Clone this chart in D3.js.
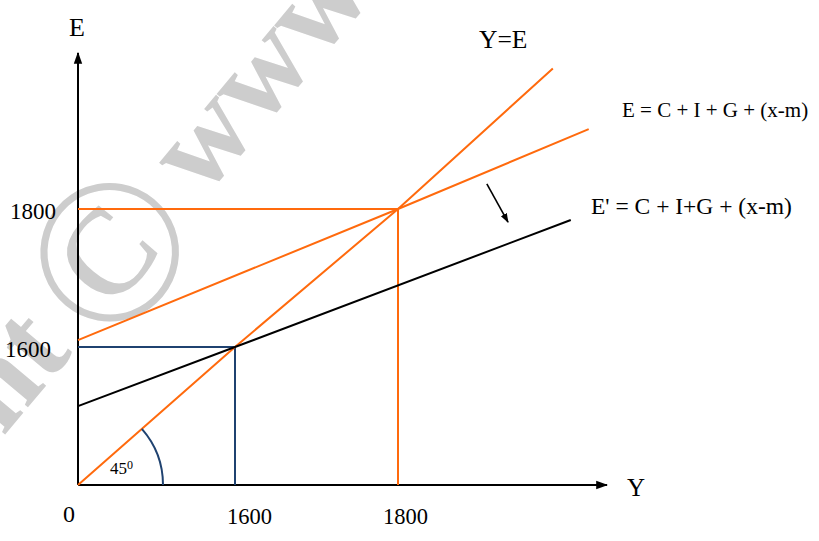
<!DOCTYPE html>
<meta charset="utf-8">
<style>
body { margin: 0; background: #fff; }
text { font-family: "Liberation Serif", "Times New Roman", serif; fill: #000; }
.wm { fill: #cdcdcd; font-weight: bold; }
</style>
<svg width="819" height="541"></svg>
<script src="https://d3js.org/d3.v7.min.js"></script>
<script>
// values (schematic Keynesian cross)
var xTicks = [1600, 1800];
var yTicks = [1600, 1800];
var yeLine = [[0, 0], [1600, 1600], [1800, 1800], [1990, 1990]];      // Y = E
var eLine = [[0, 1610], [1800, 1800], [2034, 1908]];                   // E
var e2Line = [[0, 915], [1600, 1600], [2012, 1784]];                   // E'
var eq1 = [1600, 1600];
var eq2 = [1800, 1800];
var shiftArrow = [[1909, 1834], [1935, 1781]];

var svg = d3.select('svg');
var orange = '#ff6a0d', navy = '#1f4270';

// piecewise scales – the drawing is not to scale
var x = d3.scaleLinear().domain([0, 1600, 1800, 2000]).range([78, 235, 398, 561]);
var y = d3.scaleLinear().domain([0, 1600, 1800, 2000]).range([485, 347, 209, 61]);

// watermark
var wm = svg.append('g').attr('transform', 'translate(106,249) rotate(-50)');
wm.append('text').attr('class', 'wm').attr('text-anchor', 'middle')
  .attr('y', 72).style('font-size', '205px').style('font-weight', 'normal').text('\u00A9');
wm.append('text').attr('class', 'wm').attr('text-anchor', 'end')
  .attr('x', -100).attr('y', 42).style('font-size', '124px').text('nt');
wm.append('text').attr('class', 'wm').attr('text-anchor', 'start')
  .attr('x', 100).attr('y', 42).style('font-size', '124px').text('www.');

var defs = svg.append('defs');
defs.append('marker').attr('id', 'ah')
  .attr('viewBox', '0 0 10 10').attr('refX', 9).attr('refY', 5)
  .attr('markerWidth', 6).attr('markerHeight', 6).attr('orient', 'auto')
  .append('path').attr('d', 'M0,1.5L10,5L0,8.5Z').attr('fill', '#000');

var line = d3.line().x(function (d) { return x(d[0]); }).y(function (d) { return y(d[1]); });

// axes
svg.append('line').attr('x1', x(0)).attr('y1', y(0)).attr('x2', x(0)).attr('y2', 53)
  .attr('stroke', '#000').attr('stroke-width', 2).attr('marker-end', 'url(#ah)');
svg.append('line').attr('x1', x(0)).attr('y1', y(0)).attr('x2', 607).attr('y2', y(0))
  .attr('stroke', '#000').attr('stroke-width', 2).attr('marker-end', 'url(#ah)');

// guide lines
function guide(p, c) {
  svg.append('path')
    .attr('d', line([[0, p[1]], p, [p[0], 0]]))
    .attr('fill', 'none').attr('stroke', c).attr('stroke-width', 2);
}
guide(eq1, navy);
guide(eq2, orange);

// curves
svg.append('path').attr('d', line(yeLine)).attr('fill', 'none').attr('stroke', orange).attr('stroke-width', 2);
svg.append('path').attr('d', line(eLine)).attr('fill', 'none').attr('stroke', orange).attr('stroke-width', 2);
svg.append('path').attr('d', line(e2Line)).attr('fill', 'none').attr('stroke', '#000').attr('stroke-width', 2);

// 45 degree arc
var ang = Math.atan2(y(0) - y(1600), x(1600) - x(0));
svg.append('path')
  .attr('transform', 'translate(' + x(0) + ',' + y(0) + ')')
  .attr('d', d3.arc()({ innerRadius: 85, outerRadius: 85, startAngle: Math.PI / 2 - ang, endAngle: Math.PI / 2 }))
  .attr('fill', 'none').attr('stroke', navy).attr('stroke-width', 2);
var deg = svg.append('text').attr('x', 110).attr('y', 474).style('font-size', '17px');
deg.append('tspan').text('45');
deg.append('tspan').attr('dy', -5).style('font-size', '12px').text('0');

// shift arrow
svg.append('line')
  .attr('x1', x(shiftArrow[0][0])).attr('y1', y(shiftArrow[0][1]))
  .attr('x2', x(shiftArrow[1][0])).attr('y2', y(shiftArrow[1][1]))
  .attr('stroke', '#000').attr('stroke-width', 1.6).attr('marker-end', 'url(#ah)');

// tick labels (hand placed beside the ticks as in the sketch)
var xShift = { 1600: -8, 1800: -15 };
var yEnd = { 1600: 51, 1800: 56 };
svg.selectAll('.xt').data(xTicks).enter().append('text')
  .attr('x', function (d) { return x(d) + xShift[d]; }).attr('y', 524)
  .style('font-size', '22.5px')
  .text(function (d) { return d; });
svg.selectAll('.yt').data(yTicks).enter().append('text')
  .attr('x', function (d) { return yEnd[d]; })
  .attr('y', function (d) { return y(d) + 10; })
  .attr('text-anchor', 'end').style('font-size', '23px')
  .text(function (d) { return d; });
svg.append('text').attr('x', 69).attr('y', 522).attr('text-anchor', 'middle').style('font-size', '24px').text('0');

// axis titles + curve labels
svg.append('text').attr('x', 77).attr('y', 36).attr('text-anchor', 'middle').style('font-size', '26px').text('E');
svg.append('text').attr('x', 636).attr('y', 496).attr('text-anchor', 'middle').style('font-size', '25px').text('Y');
svg.append('text').attr('x', 479).attr('y', 48).style('font-size', '25.5px').text('Y=E');
svg.append('text').attr('x', 622).attr('y', 117).style('font-size', '21px').text('E = C + I + G + (x-m)');
svg.append('text').attr('x', 591).attr('y', 214).style('font-size', '23.5px').text("E' = C + I+G + (x-m)");
</script>
